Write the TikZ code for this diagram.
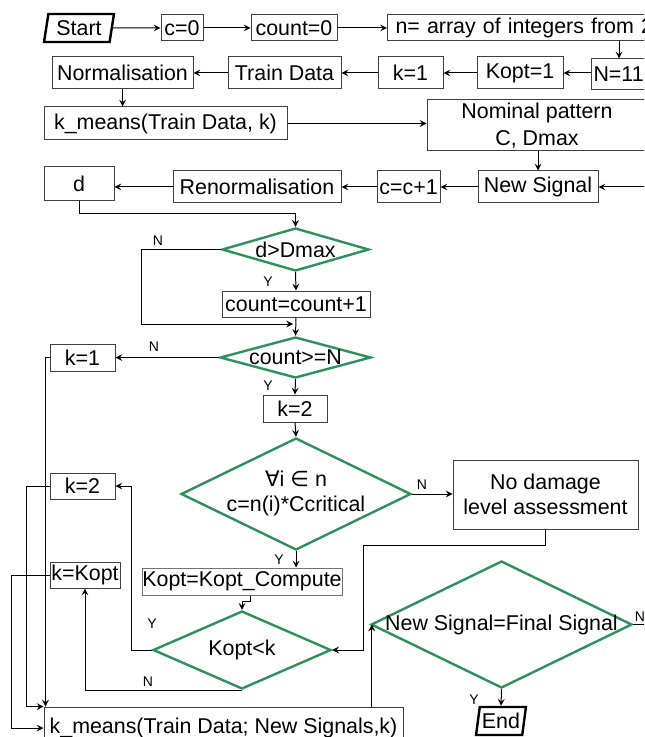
\documentclass[tikz,border=0pt]{standalone}
\usepackage{fontspec}
\setmainfont{Liberation Sans}
\newfontfamily\symfont{DejaVu Sans}
\usetikzlibrary{shapes.geometric}
\definecolor{dgreen}{RGB}{46,145,90}
\newcommand{\nowidth}[1]{\makebox[0pt]{#1}}

\begin{document}
\begin{tikzpicture}[x=0.5pt, y=-0.5pt, >=stealth, line width=0.5pt,
	font=\fontsize{10.7}{12.5}\selectfont,
	box/.style={rectangle, draw=black!75, inner sep=0pt},
	decision/.style={diamond, draw=dgreen, line width=1.2pt, inner sep=0pt},
	terminal/.style={trapezium, trapezium left angle=78, trapezium right angle=102, trapezium stretches, draw=black, line width=1.2pt, inner sep=0pt},
	lbl/.style={inner sep=0pt, font=\fontsize{7}{8}\selectfont}]
	\useasboundingbox (0,0) rectangle (644,737);
	\clip (0,0) rectangle (644,737);
	% first two rows
	\path (79,28) node(start)[terminal, minimum width=35pt, minimum height=14pt]{Start}
	(182,28) node(c0)[box, minimum width=21pt, minimum height=13pt]{c=0}
	(294,28) node(count0)[box, minimum width=43pt, minimum height=13pt]{count=0}
	(387,28) node(narr)[box, anchor=west, text width=152pt, inner xsep=4pt, minimum height=13pt, align=left]{n= array of integers from 2};
	\path (591,74.5) node(n11)[box, anchor=west, text width=40pt, inner xsep=1pt, minimum height=15.5pt, align=left]{N=11}
	(520,73) node(kopt1)[box, minimum width=43pt, minimum height=16pt]{Kopt=1}
	(410.5,73) node(k1top)[box, minimum width=32.5pt, minimum height=16pt]{k=1}
	(284.5,73) node(train)[box, minimum width=56.5pt, minimum height=16pt]{Train Data}
	(122.5,73) node(norm)[box, minimum width=70.5pt, minimum height=16pt]{Normalisation};
	\path (165.5,123.5) node(km1)[box, minimum width=121.5pt, minimum height=16.5pt]{k\_means(Train Data, k)}
	(537,125.5) node(nominal)[box, minimum width=110pt, minimum height=25.5pt, align=center, font=\fontsize{10.7}{13.5}\selectfont]{Nominal pattern\\C, Dmax};
	\path (538,187) node(newsig)[box, minimum width=60pt, minimum height=16pt]{New Signal}
	(408.5,187) node(cc1)[box, minimum width=31.5pt, minimum height=16pt]{c=c+1}
	(257,187) node(renorm)[box, minimum width=84pt, minimum height=16pt]{Renormalisation}
	(79,184) node(d)[box, minimum width=35pt, minimum height=17pt]{d};
	% decisions
	\path (295.5,249.5) node(dmax)[decision, minimum width=73.5pt, minimum height=21.5pt]{\nowidth{d>Dmax}}
	(296,304) node(cinc)[box, minimum width=74pt, minimum height=13pt]{count=count+1}
	(295.5,357.5) node(countn)[decision, minimum width=75.5pt, minimum height=20.5pt]{\nowidth{count>=N}}
	(82.5,357.5) node(k1)[box, minimum width=32.5pt, minimum height=13.5pt]{k=1}
	(295,408.5) node(k2)[box, minimum width=32pt, minimum height=13.5pt]{k=2};
	\path (296,494) node(forall)[decision, minimum width=115pt, minimum height=56pt]{\nowidth{\begin{tabular}{@{}c@{}}{\symfont ∀}i {\symfont ∈} n\\c=n(i)*Ccritical\end{tabular}}}
	(545.5,494.5) node(nodmg)[box, minimum width=92.5pt, minimum height=34.5pt, align=center]{No damage\\level assessment}
	(82.5,486) node(k2l)[box, minimum width=32.5pt, minimum height=13pt]{k=2}
	(242,581.5) node(kcomp)[box, draw=black!55, minimum width=100pt, minimum height=13.5pt]{Kopt=Kopt\_Compute}
	(242,650) node(kless)[decision, minimum width=89pt, minimum height=39pt]{\nowidth{Kopt<k}}
	(85,575) node(kkopt)[box, minimum width=35pt, minimum height=13pt]{k=Kopt}
	(223.5,728) node(km2)[box, minimum width=179.5pt, minimum height=21pt]{k\_means(Train Data; New Signals,k)}
	(501.5,624.5) node(final)[decision, minimum width=130.5pt, minimum height=63.5pt]{\nowidth{New Signal=Final Signal}}
	(501,721) node(end)[terminal, minimum width=25pt, minimum height=14pt]{End};
	% Y / N labels
	\path (158,241) node(ln1)[lbl]{N}
	(268,282) node(ly1)[lbl]{Y}
	(154,347) node(ln2)[lbl]{N}
	(268,386) node(ly2)[lbl]{Y}
	(422,485) node(ln3)[lbl]{N}
	(279,560) node(ly3)[lbl]{Y}
	(152,624) node(ly4)[lbl]{Y}
	(148,682) node(ln4)[lbl]{N}
	(474,700) node(ly5)[lbl]{Y}
	(640,617) node(ln5)[lbl]{N};
	\coordinate (c619) at (619,0);
	\coordinate (rin) at (660,187);
	\coordinate (rout) at (660,624.5);
	\coordinate (mrg) at (293,324);
	% connectors
	\draw [->] (start)--(c0);
	\draw [->] (c0)--(count0);
	\draw [->] (count0)--(narr);
	\draw [->] (narr.south -| c619)--(n11.north -| c619);
	\draw [->] (n11.west |- kopt1.east)--(kopt1.east);
	\draw [->] (kopt1)--(k1top);
	\draw [->] (k1top)--(train);
	\draw [->] (train)--(norm);
	\draw [->] (norm.south)--(norm.south |- km1.north);
	\draw [->] (km1.east)--(km1.east -| nominal.west);
	\draw [->] (newsig.north |- nominal.south)--(newsig.north);
	\draw [->] (rin)--(newsig.east);
	\draw [->] (newsig)--(cc1);
	\draw [->] (cc1)--(renorm);
	\draw [->] (renorm.west)--(renorm.west -| d.east);
	\draw [->] (d.south) -- ++(0,12) -| (dmax.north);
	\draw [->] (dmax.south)--(cinc.north);
	\draw [->] (dmax.west) -- ++(-79,0) |- (mrg);
	\draw [->] (cinc.south)--(countn.north);
	\draw [->] (countn.west)--(countn.west -| k1.east);
	\draw [->] (countn.south)--(k2.north);
	\draw [->] (k1.west) -| ([xshift=1pt]km2.north west);
	\draw [->] (k2.south)--(forall.north);
	\draw [->] (forall.east)--(forall.east -| nodmg.west);
	\draw [->] (forall.south)--(forall.south |- kcomp.north);
	\draw [->] (nodmg.south) -- ++(0,16) -| ([xshift=15.5pt]kless.east) -- (kless.east);
	\draw [->] ([xshift=4pt]kcomp.south) -- ++(0,6) -| (kless.north);
	\draw [->] (kless.west) -- ++(-20,0) |- (k2l.east);
	\draw [->] (kless.south) -| (kkopt.south);
	\draw [->] (k2l.west) -- ++(-23,0) |- (km2.north west);
	\draw [->] (kkopt.west) -- ++(-38,0) |- (km2.west);
	\draw [->] ([xshift=1pt]final.west |- km2.north)--([xshift=1pt]final.west);
	\draw [->] (final.south)--(end.north);
	\draw (final.east)--(rout);
\end{tikzpicture}
\end{document}
